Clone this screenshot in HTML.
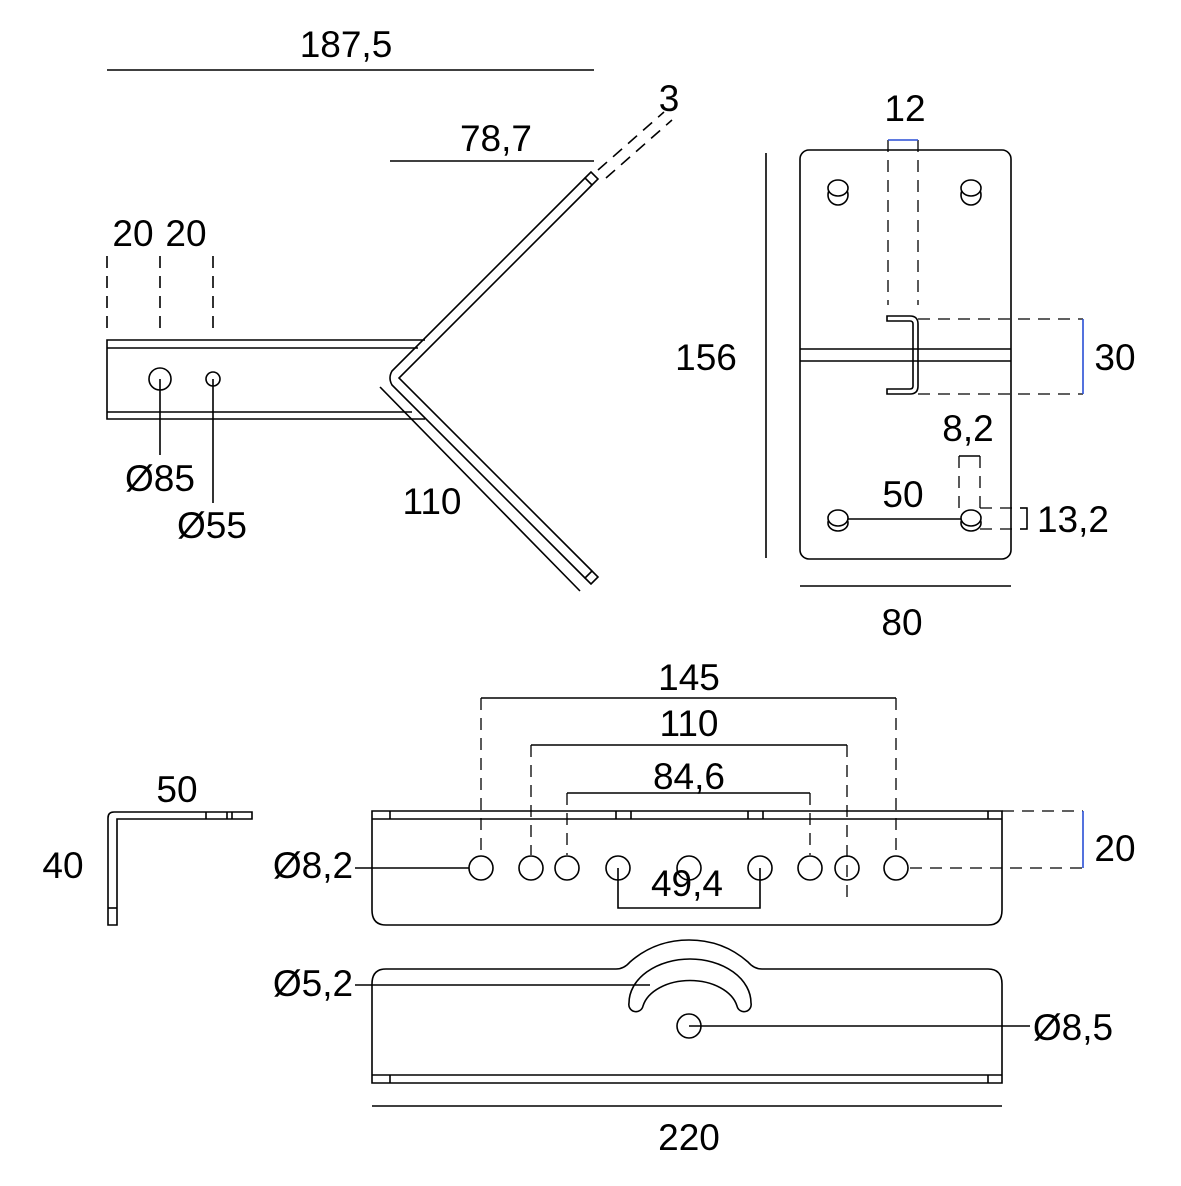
<!DOCTYPE html>
<html><head><meta charset="utf-8"><style>
html,body{margin:0;padding:0;background:#fff}
svg text{font-family:"Liberation Sans",sans-serif;font-size:37px;fill:#000;text-anchor:middle}
</style></head><body>
<svg width="1181" height="1181" viewBox="0 0 1181 1181" xmlns="http://www.w3.org/2000/svg">
<g fill="none" stroke="#000" stroke-width="1.6">
<line x1="107" y1="70" x2="594" y2="70"/>
<line x1="390" y1="161" x2="594" y2="161"/>
<g stroke-dasharray="12,8">
<line x1="107" y1="256" x2="107" y2="328"/>
<line x1="160" y1="256" x2="160" y2="328"/>
<line x1="213" y1="256" x2="213" y2="328"/>
<line x1="598" y1="170" x2="664" y2="112"/>
<line x1="606" y1="178" x2="672" y2="120"/>
</g>
<path d="M425,340 H107 V419 H425"/>
<line x1="107" y1="348" x2="418" y2="348"/>
<line x1="107" y1="412" x2="412" y2="412"/>
<path d="M585,178 L392,371 Q388,378 392,385 L585,578"/>
<path d="M592,185 L399,378 L592,571"/>
<path d="M585,178 L591,172 L598,179 L592,185 Z"/>
<path d="M585,578 L591,584 L598,577 L592,571 Z"/>
<line x1="380" y1="387" x2="580" y2="591"/>
<circle cx="160" cy="379" r="11"/>
<circle cx="213" cy="379" r="7"/>
<line x1="160" y1="379" x2="160" y2="455"/>
<line x1="213" y1="379" x2="213" y2="503"/>

<line x1="766" y1="153" x2="766" y2="558"/>
<line x1="800" y1="586" x2="1011" y2="586"/>
<rect x="800" y="150" width="211" height="409" rx="9"/>
<line x1="800" y1="349" x2="1011" y2="349"/>
<line x1="800" y1="361" x2="1011" y2="361"/>
<g stroke-dasharray="12,8" stroke-width="1.3">
<line x1="888" y1="140" x2="888" y2="305"/>
<line x1="918" y1="140" x2="918" y2="305"/>
<line x1="918" y1="319" x2="1083" y2="319"/>
<line x1="918" y1="394" x2="1083" y2="394"/>
<line x1="959" y1="456" x2="959" y2="510"/>
<line x1="980" y1="456" x2="980" y2="510"/>
<line x1="980" y1="508" x2="1027" y2="508"/>
<line x1="980" y1="529" x2="1027" y2="529"/>
<line x1="910" y1="868" x2="1083" y2="868"/>
<line x1="1002" y1="811" x2="1083" y2="811"/>
</g>
<line x1="888" y1="140" x2="918" y2="140" stroke="#2a4fd6"/>
<line x1="1083" y1="319" x2="1083" y2="394" stroke="#2a4fd6"/>
<line x1="959" y1="456" x2="980" y2="456"/>
<path d="M1020,508 H1027 V529 H1020"/>
<path d="M887,316 H910 Q918,316 918,324 V386 Q918,394 910,394 H887 V389 H910 Q913,389 913,386 V324 Q913,321 910,321 H887 Z"/>
<g fill="#fff">
<ellipse cx="838" cy="195" rx="10" ry="10"/><ellipse cx="838" cy="188" rx="10" ry="8"/>
<ellipse cx="971" cy="195" rx="10" ry="10"/><ellipse cx="971" cy="188" rx="10" ry="8"/>
<ellipse cx="838" cy="523" rx="10" ry="8"/><ellipse cx="838" cy="518" rx="10" ry="8"/>
<ellipse cx="971" cy="523" rx="10" ry="8"/><ellipse cx="971" cy="518" rx="10" ry="8"/>
</g>
<line x1="848" y1="519" x2="961" y2="519"/>

<path d="M108,925 V818 Q108,812 114,812 H252 V819 H117 V925 Z"/>
<line x1="108" y1="908" x2="117" y2="908"/>
<line x1="206" y1="812" x2="206" y2="819"/>
<line x1="227" y1="812" x2="227" y2="819"/>
<line x1="232" y1="812" x2="232" y2="819"/>

<g stroke-dasharray="12,8" stroke-width="1.3">
<line x1="481" y1="698" x2="481" y2="855"/>
<line x1="896" y1="698" x2="896" y2="855"/>
<line x1="531" y1="745" x2="531" y2="855"/>
<line x1="847" y1="745" x2="847" y2="905"/>
<line x1="567" y1="793" x2="567" y2="855"/>
<line x1="810" y1="793" x2="810" y2="855"/>
</g>
<line x1="481" y1="698" x2="896" y2="698"/>
<line x1="531" y1="745" x2="847" y2="745"/>
<line x1="567" y1="793" x2="810" y2="793"/>
<path d="M372,811 H1002 V910 Q1002,925 988,925 H386 Q372,925 372,910 Z"/>
<line x1="372" y1="819" x2="1002" y2="819"/>
<line x1="390" y1="811" x2="390" y2="819"/>
<line x1="616" y1="811" x2="616" y2="819"/>
<line x1="631" y1="811" x2="631" y2="819"/>
<line x1="748" y1="811" x2="748" y2="819"/>
<line x1="763" y1="811" x2="763" y2="819"/>
<line x1="988" y1="811" x2="988" y2="819"/>
<g>
<ellipse cx="481" cy="868" rx="12" ry="12"/>
<ellipse cx="531" cy="868" rx="12" ry="12"/>
<ellipse cx="567" cy="868" rx="12" ry="12"/>
<ellipse cx="618" cy="868" rx="12" ry="12"/>
<ellipse cx="689" cy="868" rx="12" ry="12"/>
<ellipse cx="760" cy="868" rx="12" ry="12"/>
<ellipse cx="810" cy="868" rx="12" ry="12"/>
<ellipse cx="847" cy="868" rx="12" ry="12"/>
<ellipse cx="896" cy="868" rx="12" ry="12"/>
</g>
<line x1="355" y1="868" x2="469" y2="868"/>
<path d="M618,868 V908 H760 V868"/>

<path d="M372,1083 V984 Q372,969 386,969 H616 Q624,969 630,962 Q655,940 689,940 Q723,940 748,962 Q754,969 762,969 H988 Q1002,969 1002,984 V1083 Z"/>
<line x1="372" y1="1075" x2="1002" y2="1075"/>
<line x1="390" y1="1075" x2="390" y2="1083"/>
<line x1="988" y1="1075" x2="988" y2="1083"/>
<path d="M629,1003 A61,44 0 0 1 751,1003 A7,7 0 0 1 737,1006 A48,32 0 0 0 643,1006 A7,7 0 0 1 629,1003 Z"/>
<circle cx="689" cy="1026" r="12"/>
<line x1="689" y1="1026" x2="1030" y2="1026"/>
<line x1="355" y1="985" x2="650" y2="985"/>
<line x1="372" y1="1106" x2="1002" y2="1106"/>
</g>
<line x1="1083" y1="811" x2="1083" y2="868" stroke="#2a4fd6" stroke-width="1.6"/>

<text x="346" y="57">187,5</text>
<text x="496" y="151">78,7</text>
<text x="669" y="111">3</text>
<text x="133" y="246">20</text>
<text x="186" y="246">20</text>
<text x="160" y="491">Ø85</text>
<text x="212" y="538">Ø55</text>
<text x="432" y="514">110</text>
<text x="905" y="121">12</text>
<text x="706" y="370">156</text>
<text x="1115" y="370">30</text>
<text x="968" y="441">8,2</text>
<text x="903" y="507">50</text>
<text x="1073" y="532">13,2</text>
<text x="902" y="635">80</text>
<text x="689" y="690">145</text>
<text x="689" y="736">110</text>
<text x="689" y="789">84,6</text>
<text x="687" y="896">49,4</text>
<text x="177" y="802">50</text>
<text x="63" y="878">40</text>
<text x="313" y="878">Ø8,2</text>
<text x="1115" y="861">20</text>
<text x="313" y="996">Ø5,2</text>
<text x="1073" y="1040">Ø8,5</text>
<text x="689" y="1150">220</text>
</svg>
</body></html>
